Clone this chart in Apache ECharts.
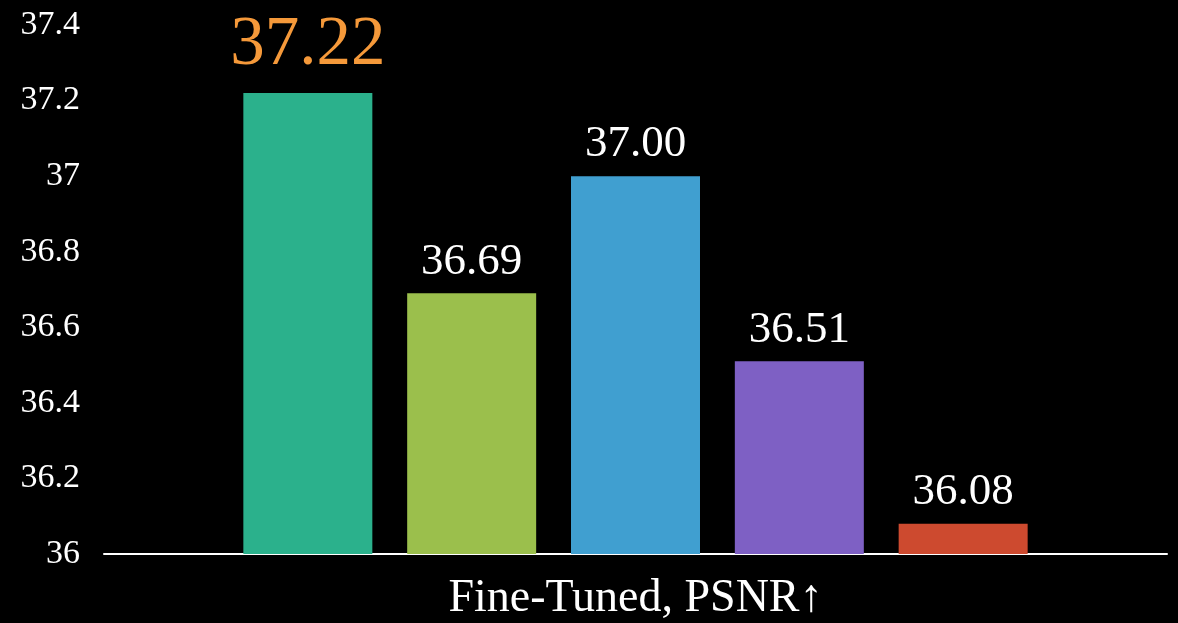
<!DOCTYPE html>
<html>
<head>
<meta charset="utf-8">
<script src="https://cdn.jsdelivr.net/npm/echarts@6/dist/echarts.min.js"></script>
<style>
html,body{margin:0;padding:0;background:#000;}
#chart{width:1178px;height:623px;}
</style>
</head>
<body>
<div id="chart"></div>
<script>
var categories = ['Fine-Tuned, PSNR\u2191'];
var seriesNames = ['A', 'B', 'C', 'D', 'E'];
var seriesValues = [37.22, 36.69, 37.00, 36.51, 36.08];
var seriesColors = ['#2bb18c', '#9bbf4c', '#409fd0', '#7e60c4', '#cd4a2f'];
var yTicks = { min: 36, max: 37.4, interval: 0.2 };
var bestIndex = 0;

var font = '"Liberation Serif", "DejaVu Serif", serif';
var chart = echarts.init(document.getElementById('chart'));
var series = seriesValues.map(function (v, i) {
  var best = i === bestIndex;
  return {
    name: seriesNames[i],
    type: 'bar',
    data: [v],
    barWidth: 129,
    barGap: '27%',
    itemStyle: { color: seriesColors[i] },
    label: {
      show: true,
      position: 'top',
      distance: best ? 13 : 9,
      color: best ? '#f5993a' : '#ffffff',
      fontFamily: font,
      fontSize: best ? 69 : 45,
      formatter: function (p) { return p.value.toFixed(2); }
    }
  };
});
chart.setOption({
  backgroundColor: '#000000',
  animation: false,
  grid: { left: 104, right: 11, top: 25, bottom: 69 },
  xAxis: {
    type: 'category',
    data: categories,
    axisLine: { show: true, lineStyle: { color: '#ffffff', width: 2 } },
    axisTick: { show: false },
    axisLabel: { color: '#ffffff', fontFamily: font, fontSize: 46, margin: 22 }
  },
  yAxis: {
    type: 'value',
    min: yTicks.min,
    max: yTicks.max,
    interval: yTicks.interval,
    splitLine: { show: false },
    axisLine: { show: false },
    axisTick: { show: false },
    axisLabel: {
      color: '#ffffff', fontFamily: font, fontSize: 34, margin: 24,
      formatter: function (v) { return String(Math.round(v * 10) / 10); }
    }
  },
  series: series
});
</script>
</body>
</html>
